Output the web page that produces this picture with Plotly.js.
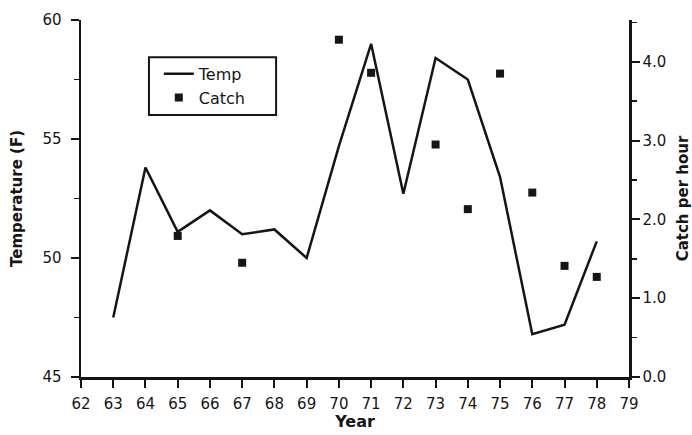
<!DOCTYPE html>
<html>
<head>
<meta charset="utf-8">
<script src="https://cdn.plot.ly/plotly-3.0.1.min.js"></script>
<style>
  html, body { margin: 0; padding: 0; background: #ffffff; }
  #chart { width: 692px; height: 435px; }
</style>
</head>
<body>
<div id="chart"></div>
<script>
// Temperature line (left axis)
const tempYears = [63, 64, 65, 66, 67, 68, 69, 70, 71, 72, 73, 74, 75, 76, 77, 78];
const tempValues = [47.5, 53.8, 51.1, 52.0, 51.0, 51.2, 50.0, 54.7, 59.0, 52.7, 58.4, 57.5, 53.4, 46.8, 47.2, 50.7];

// Catch per hour (right axis)
const catchYears = [65, 67, 70, 71, 73, 74, 75, 76, 77, 78];
const catchValues = [1.79, 1.45, 4.28, 3.86, 2.95, 2.13, 3.85, 2.34, 1.41, 1.27];

// Tick labels
const yearTicks = [62, 63, 64, 65, 66, 67, 68, 69, 70, 71, 72, 73, 74, 75, 76, 77, 78, 79];
const tempTicks = [45, 50, 55, 60];
const catchTicks = [0, 1, 2, 3, 4];
const catchLabels = ['0.0', '1.0', '2.0', '3.0', '4.0'];

const FONT = 'DejaVu Sans, Liberation Sans, Arial, sans-serif';
const ink = '#151515';
const tickFont = { family: FONT, size: 15, color: ink };
const titleFont = { family: FONT, size: 15, color: ink, weight: 'bold' };

const traces = [
  {
    x: tempYears, y: tempValues, name: 'Temp', type: 'scatter', mode: 'lines',
    line: { color: ink, width: 2.5 }, yaxis: 'y'
  },
  {
    x: catchYears, y: catchValues, name: 'Catch', type: 'scatter', mode: 'markers',
    marker: { symbol: 'square', size: 8, color: ink }, yaxis: 'y2'
  }
];

const layout = {
  width: 692, height: 435,
  margin: { l: 81, r: 63, t: 20, b: 58 },
  paper_bgcolor: '#ffffff', plot_bgcolor: '#ffffff',
  showlegend: true,
  legend: {
    x: 0.142, y: 0.897, xanchor: 'left', yanchor: 'top',
    borderwidth: 0, bgcolor: 'rgba(0,0,0,0)',
    font: { family: FONT, size: 16, color: ink },
    tracegroupgap: 0
  },
  shapes: [
    { type: 'rect', xref: 'paper', yref: 'paper',
      x0: 0.124, x1: 0.356, y0: 0.734, y1: 0.896,
      line: { color: ink, width: 2 }, fillcolor: 'rgba(0,0,0,0)' }
  ],
  xaxis: {
    range: [yearTicks[0], yearTicks[yearTicks.length - 1]],
    tickmode: 'linear', tick0: yearTicks[0], dtick: yearTicks[1] - yearTicks[0],
    showline: true, linecolor: ink, linewidth: 2.5,
    ticks: 'outside', ticklen: 8, tickwidth: 2, tickcolor: ink,
    showgrid: false, zeroline: false, tickfont: tickFont,
    ticklabelstandoff: 3,
    title: { text: 'Year', font: { family: FONT, size: 16, color: ink, weight: 'bold' }, standoff: 5 }
  },
  yaxis: {
    range: [tempTicks[0], tempTicks[tempTicks.length - 1]],
    tickmode: 'linear', tick0: tempTicks[0], dtick: tempTicks[1] - tempTicks[0],
    showline: true, linecolor: ink, linewidth: 2.5,
    ticks: 'outside', ticklen: 8, tickwidth: 2, tickcolor: ink,
    minor: { dtick: 2.5, ticks: 'outside', ticklen: 5, tickwidth: 1.5, tickcolor: ink, showgrid: false },
    showgrid: false, zeroline: false, tickfont: tickFont,
    ticklabelstandoff: 6,
    title: { text: 'Temperature (F)', font: titleFont, standoff: 16 }
  },
  yaxis2: {
    range: [0, 4.53], overlaying: 'y', side: 'right',
    tickmode: 'array', tickvals: catchTicks, ticktext: catchLabels,
    showline: true, linecolor: ink, linewidth: 2.5,
    ticks: 'outside', ticklen: 8, tickwidth: 2, tickcolor: ink,
    minor: { dtick: 0.5, tick0: 0, ticks: 'outside', ticklen: 5, tickwidth: 1.5, tickcolor: ink, showgrid: false },
    showgrid: false, zeroline: false, tickfont: tickFont,
    ticklabelstandoff: 0,
    title: { text: 'Catch per hour', font: titleFont, standoff: 14 }
  }
};

Plotly.newPlot('chart', traces, layout, { displayModeBar: false, staticPlot: true });
</script>
</body>
</html>
